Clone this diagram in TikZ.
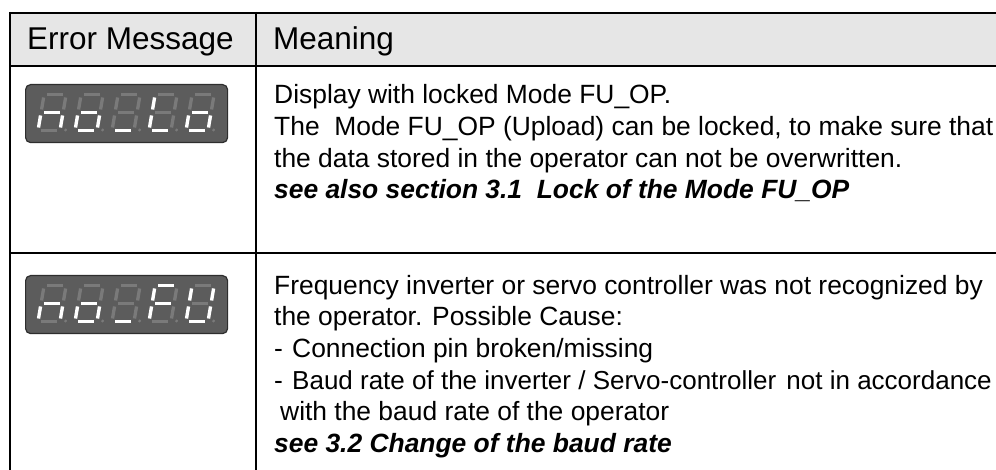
\documentclass[tikz,border=0pt]{standalone}
\usepackage{fontspec}
\setmainfont{Liberation Sans}
\definecolor{hdrfill}{HTML}{E6E6E6}
\definecolor{lcdbg}{HTML}{5C5C5C}
\definecolor{lcdedge}{HTML}{2E2E2E}
\definecolor{segdim}{HTML}{7A7A7A}
\tikzset{
  rule/.style={draw=black, line width=2pt},
  lcd/.style={draw=lcdedge, fill=lcdbg, line width=1.2pt, rounded corners=5pt,
    minimum width=202pt, minimum height=58pt, inner sep=0pt, anchor=north west},
  segoff/.style={draw=segdim, line width=3.3pt},
  segon/.style={draw=white, line width=3.3pt},
  body/.style={anchor=base west, inner sep=0pt, font=\fontsize{26.4}{31}\selectfont},
  bodybi/.style={body, font=\fontsize{26.4}{31}\selectfont\bfseries\itshape},
  hdrtxt/.style={anchor=base west, inner sep=0pt, font=\fontsize{31.5}{36}\selectfont},
}
% segments of one digit: width 22, height 36 (local y negative = up)
\newcommand\sA[1]{\path[#1] (3,-36) -- (19,-36);}
\newcommand\sB[1]{\path[#1] (22,-33) -- (22,-21);}
\newcommand\sC[1]{\path[#1] (22,-15) -- (22,-3);}
\newcommand\sD[1]{\path[#1] (3,0) -- (19,0);}
\newcommand\sE[1]{\path[#1] (0,-3) -- (0,-15);}
\newcommand\sF[1]{\path[#1] (0,-21) -- (0,-33);}
\newcommand\sG[1]{\path[#1] (3,-18) -- (19,-18);}
\newcommand\lcddigit[3]{%
  \begin{scope}[shift={(#1,#2)}, xslant=0.17]
    \sA{segoff}\sB{segoff}\sC{segoff}\sD{segoff}\sE{segoff}\sF{segoff}\sG{segoff}
    \fill[segdim] (27.5,-0.5) circle (1.6pt);
    #3
  \end{scope}}
\begin{document}
\begin{tikzpicture}[x=1pt, y=-1pt]
\useasboundingbox (0,0) rectangle (996,470);
\fill[white] (0,0) rectangle (996,470);
% header
\fill[hdrfill] (10,13) rectangle (996,66);
\draw[rule] (9,13) -- (996,13);
\draw[rule] (9,66) -- (996,66);
\draw[rule] (9,253) -- (996,253);
\draw[rule] (10,12) -- (10,470);
\draw[rule] (255.5,12) -- (255.5,470);
\node[hdrtxt] (hA) at (27,49.5) {Error Message};
\node[hdrtxt] (hB) at (273,49.5) {Meaning};
% displays
\node[lcd] (disp1) at (25,84) {};
\node[lcd] (disp2) at (25,275) {};
% noLo
\lcddigit{38}{130.5}{\sE{segon}\sG{segon}\sC{segon}}
\lcddigit{75}{130.5}{\sE{segon}\sG{segon}\sC{segon}\sD{segon}}
\lcddigit{112}{130.5}{\sD{segon}}
\lcddigit{149}{130.5}{\sF{segon}\sE{segon}\sD{segon}}
\lcddigit{186}{130.5}{\sE{segon}\sG{segon}\sC{segon}\sD{segon}}
% noFU
\lcddigit{38}{321.5}{\sE{segon}\sG{segon}\sC{segon}}
\lcddigit{75}{321.5}{\sE{segon}\sG{segon}\sC{segon}\sD{segon}}
\lcddigit{112}{321.5}{\sD{segon}}
\lcddigit{149}{321.5}{\sA{segon}\sF{segon}\sG{segon}\sE{segon}}
\lcddigit{186}{321.5}{\sB{segon}\sC{segon}\sD{segon}\sE{segon}\sF{segon}}
% row 1 text
\node[body] (r1a) at (274,104) {Display with locked Mode FU\_OP.};
\node[body] (r1b) at (274,136) {The\ \ Mode FU\_OP (Upload) can be locked, to make sure that};
\node[body] (r1c) at (274,168) {the data stored in the operator can not be overwritten.};
\node[bodybi] (r1d) at (274,199) {see also section 3.1\ \ Lock of the Mode FU\_OP};
% row 2 text
\node[body] (r2a) at (274,295) {Frequency inverter or servo controller was not recognized by};
\node[body] (r2b) at (274,326) {the operator. Possible Cause:};
\node[body] (r2c) at (274,357) {-};
\node[body] (r2c2) at (292,357) {Connection pin broken/missing};
\node[body] (r2d) at (274,389) {-};
\node[body] (r2d2) at (292,389) {\fontsize{26}{31}\selectfont Baud rate of the inverter / Servo-controller\hspace{3pt} not in accordance};
\node[body] (r2e) at (280,420) {with the baud rate of the operator};
\node[bodybi] (r2f) at (274,452) {see 3.2 Change of the baud rate};
\end{tikzpicture}
\end{document}
